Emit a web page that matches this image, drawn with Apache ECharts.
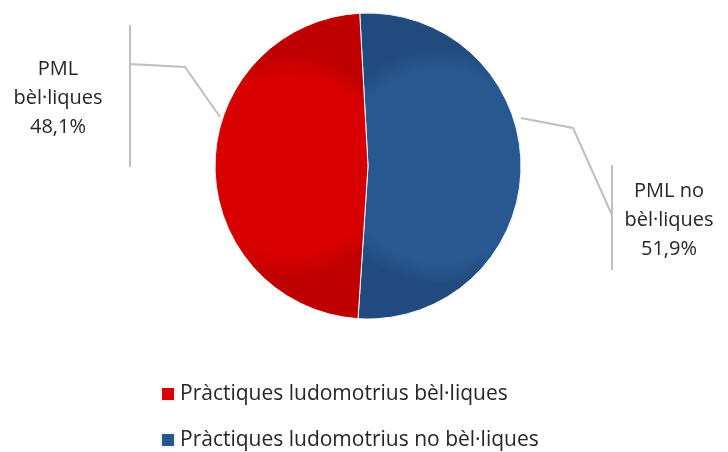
<!DOCTYPE html>
<html>
<head>
<meta charset="utf-8">
<script src="https://cdn.jsdelivr.net/npm/echarts@6/dist/echarts.min.js"></script>
<style>html,body{margin:0;padding:0;background:#fff;}#c{width:728px;height:452px;}</style>
</head>
<body>
<div id="c"></div>
<script>
// Data (drawing order: clockwise from the top)
const categories = ['Pràctiques ludomotrius no bèl·liques', 'Pràctiques ludomotrius bèl·liques'];
const shortLabels = ['PML no\nbèl·liques', 'PML\nbèl·liques'];
const values = [51.9, 48.1];
const legendOrder = ['Pràctiques ludomotrius bèl·liques', 'Pràctiques ludomotrius no bèl·liques'];

const FONT = '"Open Sans", Lato, sans-serif';
function radial(inner, outer) {
  return new echarts.graphic.RadialGradient(0.5, 0.5, 0.72, [
    {offset: 0, color: inner}, {offset: 0.82, color: inner}, {offset: 1, color: outer}
  ]);
}
const fills = [radial('#285890', '#214b7e'), radial('#d80000', '#c00000')];

// label placement (layout, not data)
const labelPos = [
  {x: 669, y: 220, line: [[521, 118], [573, 128], [612, 215], [612, 165], [612, 270]]},
  {x: 58, y: 98, line: [[220, 117], [185, 67], [130, 64], [130, 25], [130, 167]]}
];

const chart = echarts.init(document.getElementById('c'), null, {renderer: 'canvas'});
chart.setOption({
  animation: false,
  legend: {
    data: legendOrder,
    orient: 'horizontal',
    left: 155,
    top: 378,
    width: 420,
    itemGap: 24,
    itemWidth: 14,
    itemHeight: 14,
    icon: 'rect',
    textStyle: {fontFamily: FONT, fontSize: 21, color: '#262626', lineHeight: 22}
  },
  series: [{
    type: 'pie',
    center: [368, 166],
    radius: ['0%', 153],
    startAngle: 93.1,
    clockwise: true,
    avoidLabelOverlap: false,
    data: categories.map((n, i) => ({name: n, value: values[i], itemStyle: {color: fills[i]}})),
    itemStyle: {borderColor: '#f4f4f4', borderWidth: 1},
    label: {
      show: true,
      fontFamily: FONT,
      fontSize: 20,
      lineHeight: 29,
      color: '#262626',
      align: 'center',
      formatter: p => shortLabels[p.dataIndex] + '\n' + values[p.dataIndex].toFixed(1).replace('.', ',') + '%'
    },
    labelLine: {show: true, lineStyle: {color: '#bfbfbf', width: 2}},
    labelLayout: function (params) {
      const L = labelPos[params.dataIndex];
      return {x: L.x, y: L.y, align: 'center', verticalAlign: 'middle', labelLinePoints: L.line};
    },
    emphasis: {disabled: true}
  }]
});
</script>
</body>
</html>
